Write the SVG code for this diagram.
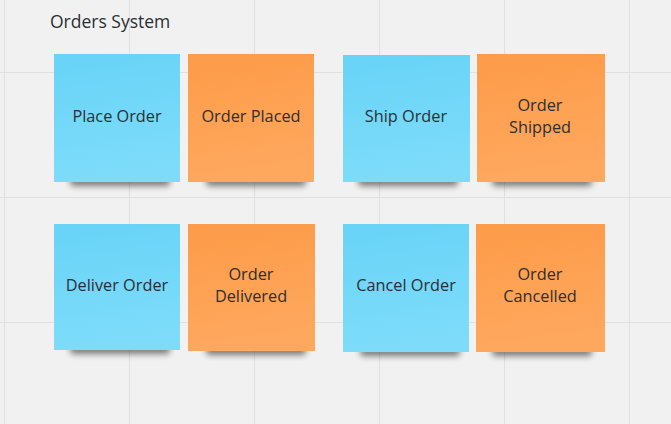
<svg xmlns="http://www.w3.org/2000/svg" width="671" height="424" viewBox="0 0 671 424">
<defs>
<linearGradient id="gb" x1="0" y1="0" x2="0.15" y2="1"><stop offset="0" stop-color="#67d3f7"/><stop offset="1" stop-color="#7edcfa"/></linearGradient>
<linearGradient id="go" x1="0" y1="0" x2="0.15" y2="1"><stop offset="0" stop-color="#fd9b48"/><stop offset="1" stop-color="#fea85e"/></linearGradient>
<filter id="sh" x="-20%" y="-100%" width="140%" height="300%"><feGaussianBlur stdDeviation="3"/></filter>
<pattern id="grid" x="4" y="72" width="125" height="125" patternUnits="userSpaceOnUse"><path d="M0 0V125M0 0H125" fill="none" stroke="#e0e0e0" stroke-width="2"/></pattern>
</defs>
<style>
.t{font-family:"Open Sans","Noto Sans",sans-serif;font-size:16.3px;fill:#2b2f33;text-anchor:middle}
.s{fill:#000;opacity:0.5;filter:url(#sh)}
.b{fill:url(#gb)}
.o{fill:url(#go)}
</style>
<rect width="671" height="424" fill="#f1f1f1"/>
<rect width="671" height="424" fill="url(#grid)"/>
<text x="50" y="28" style="font-family:'Open Sans','Noto Sans',sans-serif;font-size:17.5px;fill:#2b2f33">Orders System</text>
<g id="connectors"/>
<g id="place-order"><rect class="s" x="70" y="177" width="100" height="9" rx="4"/><rect class="b" x="54" y="54" width="126" height="128"/><text class="t" x="117" y="122">Place Order</text></g>
<g id="order-placed"><rect class="s" x="206" y="177" width="100" height="9" rx="4"/><rect class="o" x="188" y="54" width="126" height="128"/><text class="t" x="251" y="122">Order Placed</text></g>
<g id="ship-order"><rect class="s" x="358" y="177" width="100" height="9" rx="4"/><rect class="b" x="343" y="55" width="127" height="127"/><text class="t" x="406" y="122">Ship Order</text></g>
<g id="order-shipped"><rect class="s" x="492" y="177" width="100" height="9" rx="4"/><rect class="o" x="477" y="54" width="128" height="128"/><text class="t" x="540" y="111">Order</text><text class="t" x="540" y="133">Shipped</text></g>
<g id="deliver-order"><rect class="s" x="70" y="345" width="100" height="9" rx="4"/><rect class="b" x="54" y="224" width="126" height="126"/><text class="t" x="117" y="291">Deliver Order</text></g>
<g id="order-delivered"><rect class="s" x="206" y="346" width="100" height="9" rx="4"/><rect class="o" x="188" y="224" width="127" height="127"/><text class="t" x="251" y="280">Order</text><text class="t" x="251" y="302">Delivered</text></g>
<g id="cancel-order"><rect class="s" x="360" y="347" width="100" height="9" rx="4"/><rect class="b" x="343" y="224" width="126" height="128"/><text class="t" x="406" y="291">Cancel Order</text></g>
<g id="order-cancelled"><rect class="s" x="492" y="347" width="100" height="9" rx="4"/><rect class="o" x="476" y="224" width="129" height="128"/><text class="t" x="540" y="280">Order</text><text class="t" x="540" y="302">Cancelled</text></g>
</svg>
